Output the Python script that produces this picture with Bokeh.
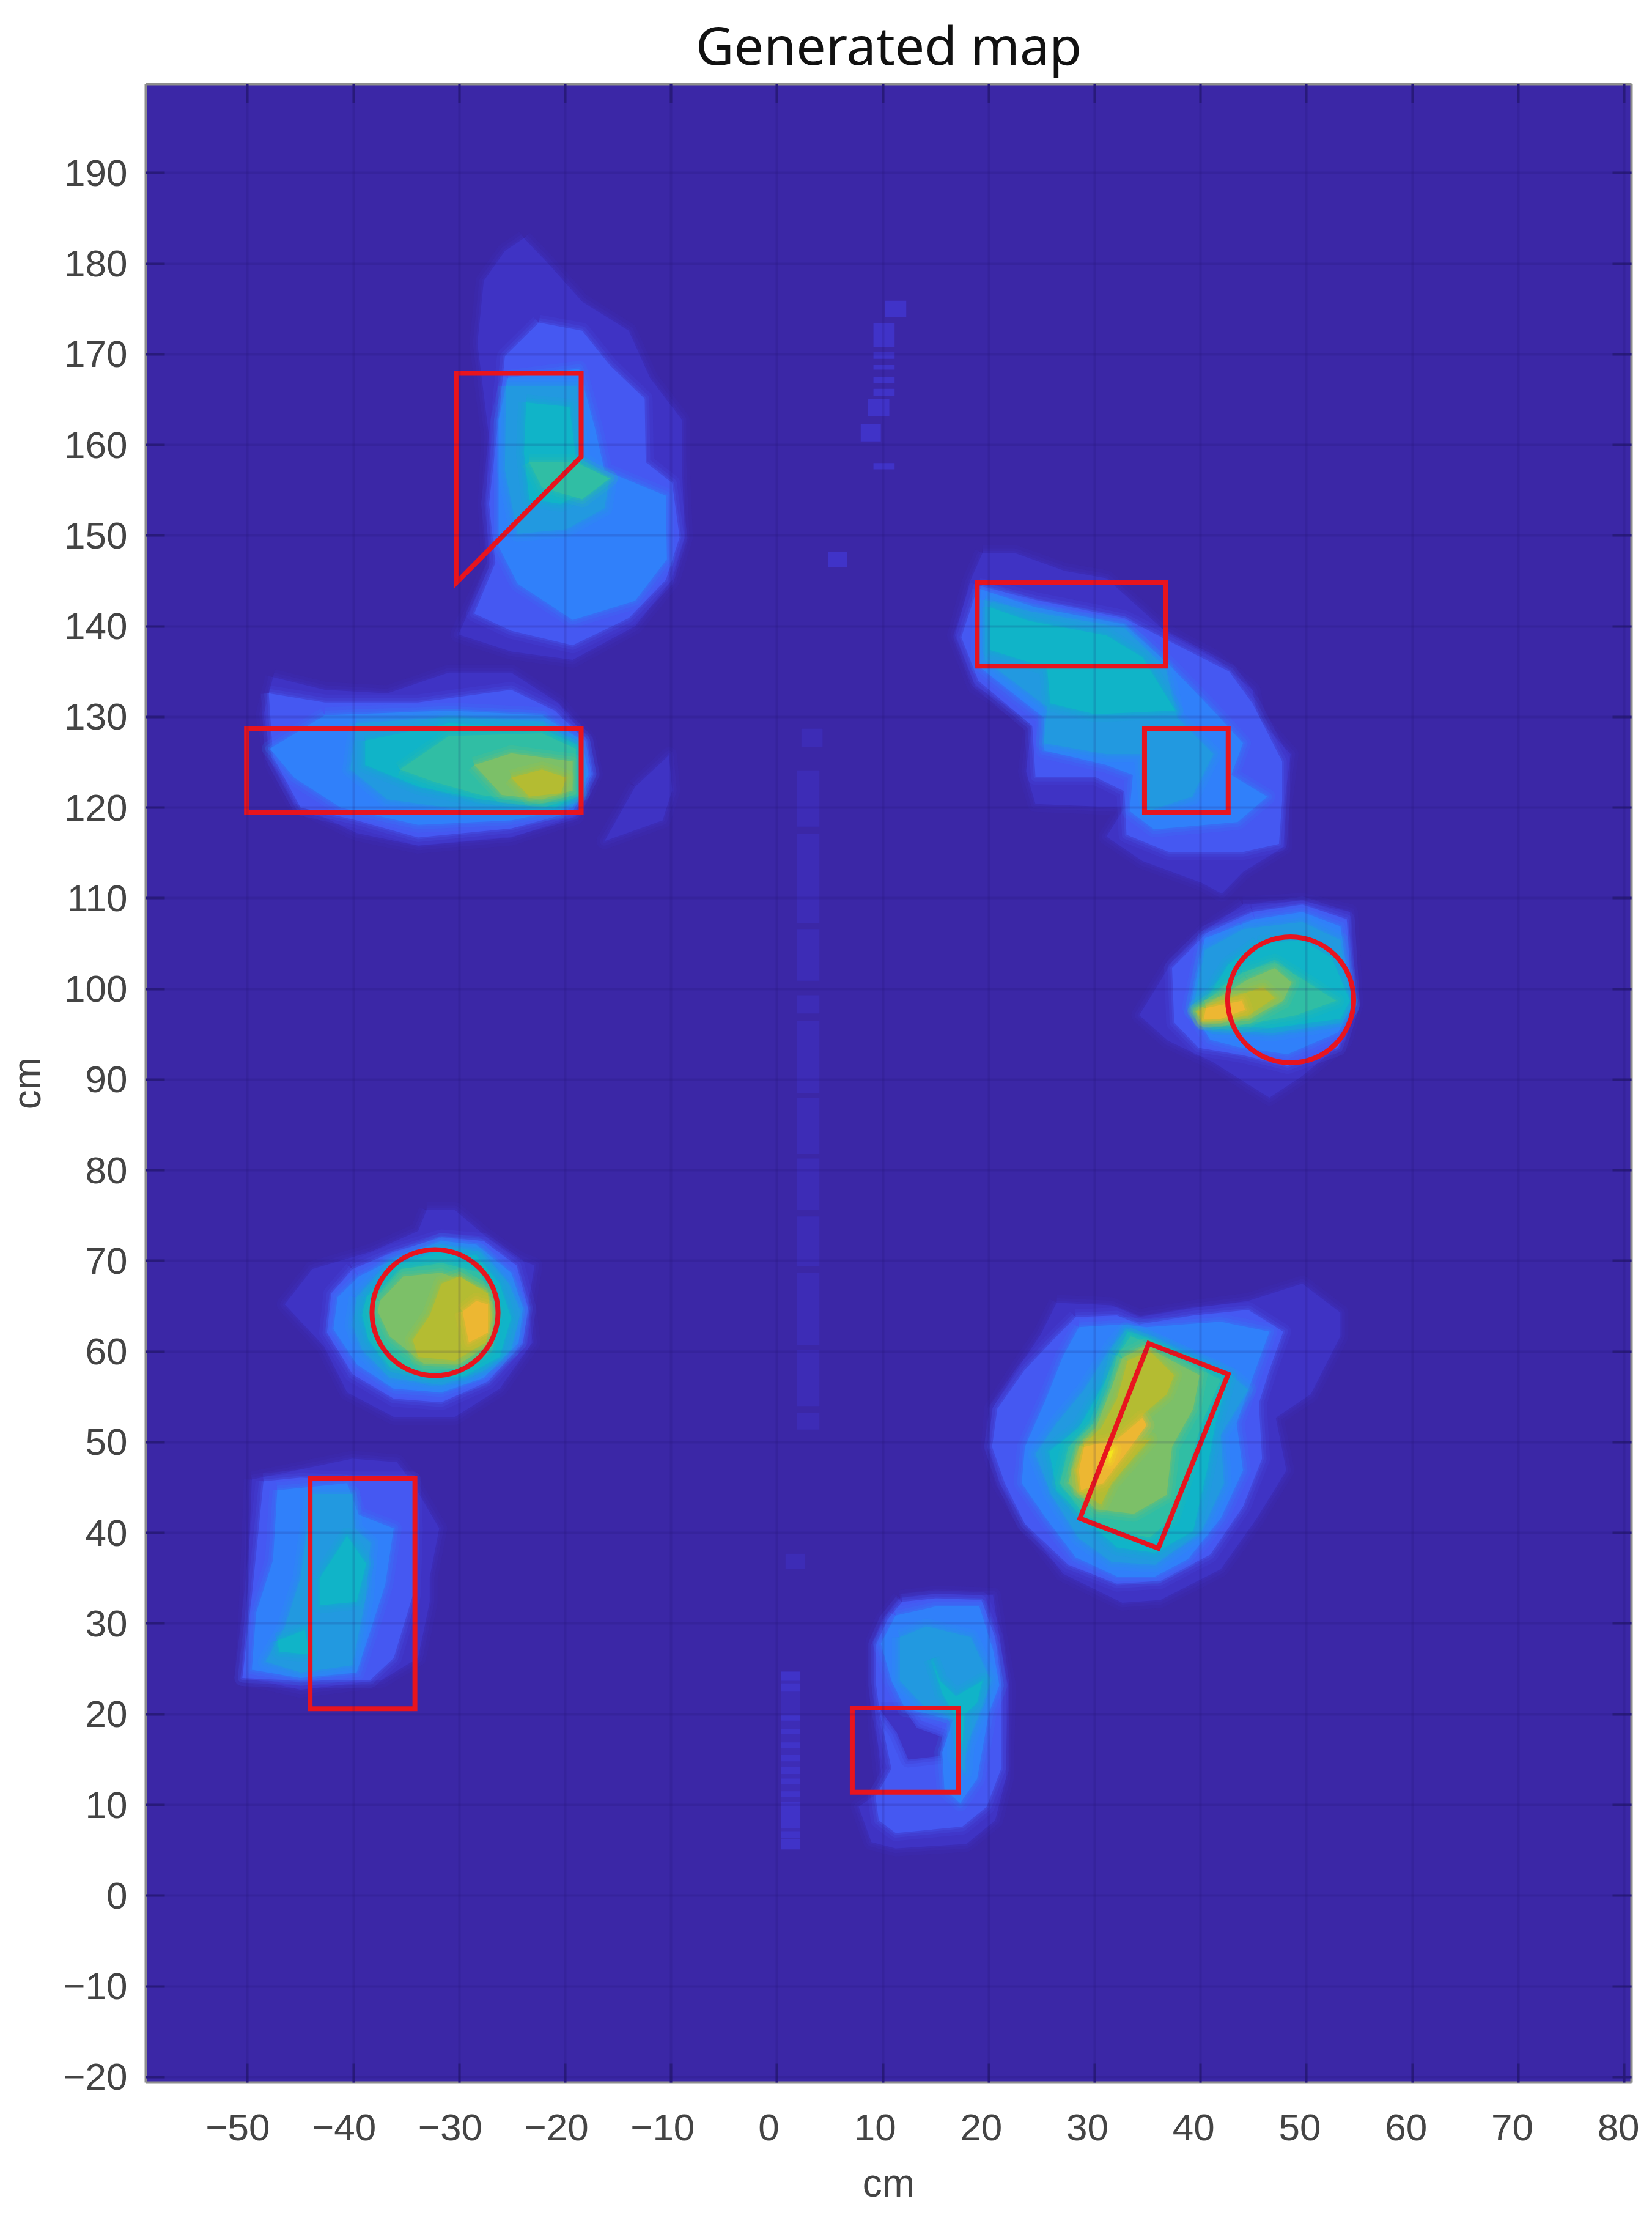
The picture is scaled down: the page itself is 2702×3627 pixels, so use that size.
from bokeh.embed import file_html
from bokeh.resources import INLINE
from bokeh.plotting import figure
from bokeh.models import Range1d, LinearAxis, FixedTicker, Grid

# ---------- axes ----------
x_ticks = [-50, -40, -30, -20, -10, 0, 10, 20, 30, 40, 50, 60, 70, 80]
y_ticks = [-20, -10, 0, 10, 20, 30, 40, 50, 60, 70, 80, 90, 100, 110, 120, 130, 140, 150, 160, 170, 180, 190]
x_labels = ["\u221250", "\u221240", "\u221230", "\u221220", "\u221210", "0", "10", "20", "30", "40", "50", "60", "70", "80"]
y_labels = ["\u221220", "\u221210", "0", "10", "20", "30", "40", "50", "60", "70", "80", "90", "100", "110", "120", "130", "140", "150", "160", "170", "180", "190"]
title_text = "Generated map"
x_title = "cm"
y_title = "cm"

# ---------- red outlines (cm) ----------
poly_a = [(-30.3, 167.9), (-18.5, 167.9), (-18.5, 158.7), (-30.3, 144.8)]
rect_b = [(-50.1, 128.7), (-18.5, 128.7), (-18.5, 119.5), (-50.1, 119.5)]
rect_c = [(18.9, 144.8), (36.7, 144.8), (36.7, 135.6), (18.9, 135.6)]
rect_d = [(34.7, 128.7), (42.6, 128.7), (42.6, 119.5), (34.7, 119.5)]
rect_g = [(35.1, 60.9), (42.6, 57.5), (36.0, 38.3), (28.6, 41.6)]
rect_h = [(-44.1, 46.0), (-34.2, 46.0), (-34.2, 20.6), (-44.1, 20.6)]
rect_i = [(7.1, 20.7), (17.1, 20.7), (17.1, 11.4), (7.1, 11.4)]
circle_x = [48.5, -32.3]
circle_y = [98.8, 64.3]
circle_w = [11.9, 11.9]
circle_h = [13.9, 13.9]

# ---------- density contours (cm) ----------
tl_1 = [(-23.9,182.8),(-21.6,180),(-18.4,175.8),(-14,172.6),(-12,167.4),(-9,162.8),(-9,158.1),(-8.7,149.8),(-9.9,145.1),(-13.4,140),(-19.3,136.3),(-25.1,137.2),(-30.1,139.1),(-27.2,146.5),(-27.5,153.5),(-27.2,160.9),(-28.3,171.2),(-27.7,178.1),(-25.7,181.4)]
tl_2 = [(-22.5,173.5),(-18.4,172.6),(-15.8,168.8),(-12.5,165.1),(-12.4,158.1),(-9.9,155.8),(-9.2,149.8),(-10.5,145.1),(-14,140.9),(-19.3,137.9),(-25.1,139.5),(-28.6,141.4),(-26.6,147),(-27.2,153.5),(-26.3,162.8),(-25.7,169.8)]
tl_3 = [(-25.4,167.4),(-18.7,168.4),(-17.2,161.9),(-16.3,157.2),(-10.5,154.4),(-10.4,147.4),(-13.4,142.8),(-19.3,140.7),(-24.5,144.7),(-26.3,148.8),(-26.3,162.8)]
tl_4 = [(-25.6,166.5),(-18.9,166.5),(-18.6,158.6),(-15.8,156.3),(-16.3,153),(-19.9,150.7),(-24.5,150.2),(-25.7,157.2)]
tl_5 = [(-23.7,164.7),(-19.6,164.2),(-19,158.6),(-16.7,155.8),(-20.4,153.5),(-23.4,154),(-23.9,159.1)]
tl_6 = [(-23.4,158.1),(-19,158.1),(-15.8,156.3),(-18.4,154),(-22.2,155.3)]

bar_1 = [(-47.6,134.4),(-42.7,133),(-36.8,132.6),(-31,134.9),(-25.1,134.9),(-20.7,131.6),(-17.8,127.4),(-17.2,123.7),(-19,119),(-25.1,116.7),(-33.9,115.8),(-39.7,117.2),(-45.6,120.5),(-47.6,124.7),(-48.5,130.2)]
bar_2 = [(-48,132.6),(-42.7,131.6),(-33.9,131.6),(-25.1,133),(-21,130.7),(-18.1,127.4),(-17.5,123.7),(-19.3,119.5),(-25.1,117.7),(-33.9,116.7),(-39.7,118.6),(-45,120),(-47.6,125.6)]
bar_3 = [(-42.7,130.2),(-31,130.7),(-22.2,130.2),(-18.4,127.4),(-17.8,123.7),(-19.3,120),(-25.1,118.6),(-33.9,118.1),(-41.2,120),(-45.6,123.3),(-47.9,126.5)]
bar_4 = [(-39.7,129.3),(-31,130),(-22.2,129.5),(-18.7,126.7),(-18.4,121.6),(-20.7,119.5),(-28,119.5),(-36.8,120.9),(-40.3,124.2)]
bar_5 = [(-38.9,127.4),(-31,129.3),(-22.2,128.7),(-19,126.9),(-18.7,121.4),(-21,120),(-28,120.9),(-33.9,122.3),(-38.9,124.7)]
bar_6 = [(-35.6,124.2),(-31,127.9),(-22.2,128.2),(-19,126.5),(-19,121.4),(-22.2,120.5),(-28,121.4),(-32.3,122.8)]
bar_7 = [(-28.6,124.7),(-25.1,126),(-19.3,125.1),(-19.3,121.9),(-22.2,120.9),(-26,121.4)]
bar_8 = [(-25.1,123.3),(-22.2,124.2),(-19.9,123.3),(-20.4,121.6),(-23.4,121.2)]
tail_1 = [(-13.4,122.3),(-10.2,125.8),(-9.9,121.9),(-10.8,118.6),(-16.3,116.3)]

tr_1 = [(19.4,148.1),(22.4,148.1),(27.2,146.1),(31.1,145.3),(36.7,139.4),(41.2,136.6),(44.9,133),(45.4,129.9),(48.5,125.9),(47.9,120.4),(47.9,115.7),(44,112.9),(42,110.5),(40.1,111.7),(34.5,114.1),(31.1,116.8),(32.8,120),(24.4,120.4),(23.5,124),(24.1,129.5),(18.7,133.4),(16.8,139),(18.2,144.9)]
tr_2 = [(19,144.5),(24.4,142.9),(32.8,140.9),(37.3,138.2),(42.7,135),(44.9,131.5),(47.7,125.1),(47.7,120.8),(47.4,116),(44,115.1),(37,115.1),(33,117),(32.8,121.8),(30,123.4),(24.4,123.4),(24.1,129),(19,134),(17.4,138.8)]
tr_3 = [(19.2,144.1),(24.4,142.1),(32.8,140.2),(37,135.8),(41.2,130.7),(44,127.1),(42.9,123.6),(46.3,121.2),(43.5,118.4),(35.6,117.6),(33.3,119.6),(33.6,123.6),(31.1,124.7),(25.2,126.3),(25.2,129.9),(19,135.6)]
tr_4 = [(19.6,142.9),(23.8,141.7),(32.8,139.8),(36.7,135.4),(37.8,129.9),(41.2,125.9),(39.2,121.2),(35,119.6),(34.4,125.9),(31.1,125.9),(25.2,127.1),(25.5,131.1),(19.6,136.3)]
tr_5 = [(20.1,142.1),(23.8,140.6),(31.1,139),(34.5,136.6),(37.6,130.7),(30,130.3),(25.8,131.5),(25.5,135.4),(20.1,137.4)]

rc_1 = [(44,109.3),(49.6,109.7),(54.1,108.5),(54.6,98.3),(53.6,94.3),(49.6,90.4),(46.5,88),(41.2,91.9),(36.9,94.3),(34.2,97.1),(37.3,103),(40.6,106.6)]
rc_2 = [(44.9,108.5),(49.6,109.3),(53.8,107.7),(54.3,98.3),(53,93.5),(48.2,91.5),(44,92.7),(39.8,93.5),(37.5,96.3),(37.3,102.3),(40.6,106.2)]
rc_3 = [(45.1,107.7),(49.6,108.5),(53.2,106.9),(54.3,98.3),(53,95.2),(48.2,92.8),(43.5,93.6),(40.9,94.4),(39,98),(40.4,105.6)]
rc_4 = [(44,106.6),(49.6,107.4),(53.2,105.4),(54.2,97.9),(53.2,96.3),(46.8,95.1),(41.2,95.5),(39.2,97.5),(40.4,104.3)]
rc_5 = [(45.4,105),(49.6,105.4),(52.4,103.4),(54.1,98.7),(53.2,96.7),(46.8,95.7),(41.2,95.9),(39.8,97.5),(42.6,102.7)]
rc_6 = [(43.9,101.8),(47,103),(49.2,101.4),(52.8,98.7),(49,97.1),(43.4,95.9),(40.1,96.3),(39.5,97.9)]
rc_7 = [(44.4,101),(47,102.3),(48.6,100.7),(47.8,98.7),(44.6,96.7),(40.3,96.3),(39.5,97.5),(41.7,99.1)]
rc_8 = [(41.9,98.7),(45.9,100.2),(47,99),(44.4,97),(40.1,96.5),(39.7,97.5)]
rc_9 = [(40.5,97.9),(43.9,98.7),(44.2,97.7),(41.9,96.7),(40.3,96.7)]

br_1 = [(26.4,65.4),(31.6,65.1),(34.2,63.8),(39.3,64.8),(44.5,65.6),(49.6,67.5),(53.2,64.3),(53.2,61.7),(50.4,55.3),(47.1,52.7),(48.1,46.9),(45.3,41.6),(41.9,36),(36.2,32.6),(32.6,32.3),(27,35.5),(23.9,40.2),(21,45.5),(20,49.5),(20.3,53.7),(23.1,58.8),(24.9,61.9)]
br_2 = [(28.2,63.8),(32.1,64),(34.2,63),(39.3,64),(44.5,64.6),(47.8,62.2),(46.5,58),(45.5,54.3),(45.8,48.2),(44,42.9),(40.9,37.6),(36.2,34.7),(32.1,34.4),(27.5,36.5),(23.4,41),(21.5,45.5),(20.3,49.5),(20.8,53.7),(23.4,58),(26.4,61.7)]
br_3 = [(28.5,62.7),(32.6,63),(34.9,62.7),(41.9,63.3),(46.5,62.2),(45,57.4),(43.4,52.1),(44,46.9),(41.9,41.6),(38.8,37.1),(35.7,35.2),(32.1,35.2),(28.2,37.3),(25.4,41.6),(23.1,45.5),(23.4,49.5),(25.4,54.8),(27,59.5)]
br_4 = [(31.6,60.6),(32.9,62.4),(34.9,61.7),(42.9,57.4),(44.5,55.8),(41.9,50.8),(42.2,45.5),(40.1,40.2),(35.7,36.5),(31.6,36.8),(28.5,39.4),(25.9,44.2),(24.4,48.7),(26.4,52.1),(29,55.8)]
br_5 = [(32.1,59.6),(33.1,62.2),(35.2,61.4),(42.7,57.4),(41.4,52.1),(40.6,46.9),(39.3,40.2),(35.7,37.8),(32.1,38.4),(29,41.6),(26.4,44.7),(25.7,49),(28.5,51.6),(30.8,56.4)]
br_6 = [(32.1,59.6),(33.4,61.7),(35.2,60.9),(41.9,56.9),(40.1,52.1),(38.8,46.9),(37.3,41.6),(35.2,39.5),(32.1,40.2),(29,42),(26.7,45.5),(27.5,49.5),(29.8,52.1),(31.3,55.8)]
br_7 = [(32.6,59.3),(34.7,60.6),(39.9,57.4),(39.3,53.7),(37.3,49.5),(36.8,44.2),(33.7,42.1),(30.1,42.6),(27.5,45.5),(28.5,49.5),(30.1,51.6),(31.6,56.1)]
br_8 = [(33.1,59),(35.2,60.1),(37.5,57.4),(36.8,55.3),(34.7,53.2),(33.1,50),(35.2,50.3),(31.6,45.5),(30.6,43.1),(28.5,44.7),(28.2,46.9),(29,49.8),(30.6,51.6),(32.1,54.8)]
br_9 = [(29,49.5),(32.1,50.3),(34.5,52.7),(34.9,51.9),(32.9,48.7),(30.8,45.5),(28.7,44.7),(28.5,46.9)]
br_10 = [(31.3,49),(31.8,49.2),(31.4,47.9)]

lc_1 = [(-33.1,75.6),(-30.4,75.6),(-27.7,72.9),(-24.4,70.2),(-22.9,69.5),(-23.5,65.2),(-23.1,61),(-26.2,55.9),(-30.4,52.8),(-36.2,52.8),(-40.6,55.5),(-42.8,60.6),(-46.5,65.2),(-43.9,69.1),(-38.4,71),(-33.9,73.3)]
lc_2 = [(-40.1,69.1),(-36.2,71),(-31.7,72.6),(-27.7,72.2),(-24.6,69.5),(-23.5,64.8),(-24,61),(-27.3,56.7),(-31.7,54.4),(-36.2,54.8),(-40.1,57.5),(-42.5,62.1),(-42.1,66.4)]
lc_3 = [(-39.5,68.3),(-36.2,70.2),(-31.7,72.2),(-28.4,71.8),(-25.1,68.7),(-24,64.8),(-24.4,61),(-27.7,57.1),(-31.7,55.5),(-36.2,55.9),(-39.7,58.6),(-41.9,62.5),(-41.5,66)]
lc_4 = [(-39.7,66),(-36.6,69.8),(-31.7,71.8),(-28,71),(-25.3,67.5),(-24.2,64.4),(-25.1,60.2),(-27.7,57.9),(-31.7,56.3),(-36.6,57.1),(-39.2,60.2),(-40.1,62.9)]
lc_5 = [(-38.8,66),(-36.2,69.4),(-32.2,71),(-28.4,70.6),(-26.2,67.5),(-25.1,63.7),(-26.2,59.4),(-29.5,57.3),(-32.8,57.1),(-36.6,58.3),(-38.6,61.3),(-39.2,64)]
lc_6 = [(-37.9,66),(-35.5,69.1),(-31.7,69.8),(-28,68.7),(-26.6,64.4),(-27.3,60.2),(-30,58.2),(-32.8,57.7),(-36.2,58.6),(-37.9,61.7),(-38.4,64.4)]
lc_7 = [(-37.5,65.6),(-35.3,68.3),(-31.7,68.7),(-27.5,66.8),(-26.9,64),(-27.5,60.6),(-30,58.6),(-33.3,58.6),(-36.6,61.7),(-37.7,64.4)]
lc_8 = [(-32.8,64),(-31.7,67.5),(-30,68.3),(-27.3,66.4),(-27.1,63.7),(-27.5,61),(-30.4,59),(-33.9,59.4),(-34.4,61.3)]
lc_9 = [(-29.7,64.4),(-28.4,65.6),(-27.3,65.2),(-27.3,62.1),(-29.1,61)]

ll_1 = [(-49.6,45.9),(-45,47),(-40.1,48.2),(-35.9,47.8),(-34.4,45.5),(-31.9,40.5),(-32.8,35.1),(-32.8,32.4),(-33.9,26.2),(-37.3,23.8),(-45,22.7),(-48.1,23.5),(-50.5,24),(-50.1,31.2)]
ll_2 = [(-48.5,45.7),(-45,46.1),(-40.1,45.9),(-34.4,45.9),(-34.2,40.5),(-34.4,33.1),(-36.2,26.2),(-38.4,23.8),(-45,23.7),(-50.5,24),(-49.6,33.1)]
ll_3 = [(-47.2,44.7),(-40.6,45.5),(-39.5,42),(-36.2,40.5),(-37,34.3),(-38.6,28.5),(-39.7,24.6),(-45,24),(-49.6,24.9),(-49.2,31.2),(-47.6,37)]
ll_4 = [(-43.9,44.3),(-40.1,44.3),(-39.9,40.5),(-38.4,38.9),(-38.8,33.1),(-40.1,25.4),(-45,24.6),(-48.3,25.8),(-46.5,29.6),(-45,35.1)]
ll_5a = [(-43.2,35),(-40.6,39.7),(-38.8,36.6),(-39.7,32.4),(-43.2,32)]
ll_5b = [(-47.2,28.1),(-44.6,29.3),(-44.1,26.6),(-47,26.9)]

bm_1 = [(11.6,32.8),(15,33.3),(20.4,33.1),(21,28.5),(21.8,23.2),(21.6,12.9),(20.6,8.3),(17.9,5.7),(11.2,5.2),(8.9,5.9),(7.7,9.8),(10,11.7),(9.3,18.9),(9.1,23.7),(9.1,28),(10,30.4)]
bm_2 = [(11.8,32.4),(15,32.8),(19.3,32.6),(20.6,28.5),(21.2,23.2),(21.2,14.1),(19.8,9.8),(17.5,7.6),(11.2,6.9),(9.6,8.3),(9.3,10.9),(10.8,14),(9.7,20.1),(9.3,23.7),(9.3,27.5),(10.4,30.4)]
bm_3 = [(11.2,30.9),(15,31.9),(19.1,31.9),(20.4,27.1),(21,23.2),(20,20.1),(18.9,12.9),(17.3,10.2),(15.8,11.7),(15.6,15.8),(16.6,19.4),(12.1,20.6),(10.8,23.7),(9.8,27.8)]
bm_4 = [(11.6,28.5),(14.1,29.7),(18.3,28.5),(20.2,23.7),(19.3,20.6),(17.9,16.5),(17.7,13.6),(16.8,15.3),(16.8,19.6),(14.1,20.6),(11.6,23.7)]
bm_5 = [(14.6,26.1),(15.4,23.7),(16.9,22),(19.4,23.7),(18.9,21.3),(17.7,19.9),(17.5,16.5),(16.9,19.6),(15.6,22.3)]
bm_gap = [(9.8,20.4),(12.1,20.4),(13.2,18.5),(15.6,17.5),(15.4,15.4),(12.4,15),(11.3,18)]

levels = [
    ("#3F33C4", [tl_1, bar_1, tail_1, tr_1, rc_1, br_1, lc_1, ll_1, bm_1]),
    ("#4558F2", [tl_2, bar_2, tr_2, rc_2, br_2, lc_2, ll_2, bm_2]),
    ("#3F33C4", [bm_gap]),
    ("#3080FA", [tl_3, bar_3, tr_3, rc_3, br_3, lc_3, ll_3, bm_3]),
    ("#2299E0", [tl_4, bar_4, tr_4, rc_4, br_4, lc_4, ll_4, bm_4]),
    ("#10B4C8", [tl_5, bar_5, tr_5, rc_5, br_5, lc_5, ll_5a, ll_5b, bm_5]),
    ("#30BEA4", [tl_6, bar_6, rc_6, br_6, lc_6]),
    ("#7CC068", [bar_7, rc_7, br_7, lc_7]),
    ("#B4BC32", [bar_8, rc_8, br_8, lc_8]),
    ("#EDB732", [rc_9, br_9, lc_9]),
    ("#F4E61E", [br_10]),
]

# ---------- faint central strips (left, right, top, bottom in cm) ----------
strip_left = [2.3, 1.9, 1.9, 1.9, 1.9, 1.9, 1.9, 1.9, 1.9, 1.9, 1.9, 1.9, 0.8, 0.4]
strip_right = [4.3, 4.0, 4.0, 4.0, 4.0, 4.0, 4.0, 4.0, 4.0, 4.0, 4.0, 4.0, 2.6, 2.2]
strip_top = [128.7, 124.1, 117.1, 106.6, 99.3, 96.5, 88.0, 81.3, 74.9, 68.7, 60.2, 53.2, 37.7, 24.7]
strip_bottom = [126.7, 117.9, 107.3, 100.9, 97.3, 88.5, 81.8, 75.6, 69.4, 60.7, 54.0, 51.4, 36.0, 5.1]

band_left = [0.4, 0.4, 0.4, 0.4, 0.4, 0.4, 0.4, 0.4, 0.4, 0.4, 0.4, 0.4,
             10.2, 9.1, 9.1, 9.1, 9.1, 9.1, 8.6, 7.9, 9.1, 4.8]
band_right = [2.2, 2.2, 2.2, 2.2, 2.2, 2.2, 2.2, 2.2, 2.2, 2.2, 2.2, 2.2,
              12.2, 11.1, 11.1, 11.1, 11.1, 11.1, 10.6, 9.8, 11.1, 6.6]
band_top = [24.7, 23.4, 19.9, 18.4, 16.9, 15.5, 14.2, 12.9, 11.5, 10.3, 7.1, 6.2,
            175.9, 173.4, 170.2, 168.8, 167.5, 166.2, 165.1, 162.3, 158.0, 148.2]
band_bottom = [23.7, 22.5, 19.3, 17.8, 16.3, 14.8, 13.4, 12.3, 10.9, 7.4, 6.4, 5.1,
               174.1, 170.8, 169.5, 168.3, 166.8, 165.4, 163.2, 160.4, 157.3, 146.5]

# ---------- figure ----------
p = figure(width=2694, height=3608, output_backend="svg", toolbar_location=None,
           x_range=Range1d(-59.61, 80.69), y_range=Range1d(-20.62, 199.8),
           x_axis_type=None, y_axis_type=None,
           min_border_left=238, min_border_right=26, min_border_top=137, min_border_bottom=200)
p.background_fill_color = "#3B27A6"
p.border_fill_color = "white"
p.outline_line_color = None

for colour, shapes in levels:
    xs = [[q[0] for q in s] for s in shapes]
    ys = [[q[1] for q in s] for s in shapes]
    xc = [x + x[:1] for x in xs]
    yc = [y + y[:1] for y in ys]
    p.multi_line(xc, yc, line_color=colour, line_alpha=0.14, line_width=26, line_join="round")
    p.multi_line(xc, yc, line_color=colour, line_alpha=0.2, line_width=15, line_join="round")
    p.multi_line(xc, yc, line_color=colour, line_alpha=0.3, line_width=6, line_join="round")
    p.patches(xs, ys, fill_color=colour, line_color=None)

p.quad(left=strip_left, right=strip_right, top=strip_top, bottom=strip_bottom,
       fill_color="#3D2CB6", line_color=None)
p.quad(left=band_left, right=band_right, top=band_top, bottom=band_bottom,
       fill_color="#4033C8", line_color=None)

for shape in [poly_a, rect_b, rect_c, rect_d, rect_g, rect_h, rect_i]:
    p.patch([q[0] for q in shape], [q[1] for q in shape], fill_color=None,
            line_color="#E8141E", line_width=8, line_join="miter")
p.ellipse(circle_x, circle_y, width=circle_w, height=circle_h, fill_color=None,
          line_color="#E8141E", line_width=8)

AX = "#8E8E8E"
TICK = "#2B1C7E"
LABEL = "#444444"
LF = "Liberation Sans"


def tick_axis(ticks):
    ax = LinearAxis(ticker=FixedTicker(ticks=ticks), major_tick_in=31, major_tick_out=0,
                    major_tick_line_color=TICK, major_tick_line_width=4,
                    axis_line_color=AX, axis_line_width=4,
                    major_label_overrides={t: "" for t in ticks},
                    major_label_text_font_size="1px", major_label_standoff=0)
    ax.minor_tick_line_color = None
    return ax


p.add_layout(tick_axis(x_ticks), "below")
p.add_layout(tick_axis(x_ticks), "above")
p.add_layout(tick_axis(y_ticks), "right")

left = LinearAxis(ticker=FixedTicker(ticks=y_ticks), major_tick_in=31, major_tick_out=0,
                  major_tick_line_color=TICK, major_tick_line_width=4,
                  axis_line_color=AX, axis_line_width=4,
                  major_label_overrides=dict(zip(y_ticks, y_labels)),
                  major_label_text_font=LF, major_label_text_font_size="62px",
                  major_label_text_color=LABEL, major_label_standoff=30,
                  axis_label=y_title, axis_label_text_font=LF, axis_label_text_font_style="normal",
                  axis_label_text_font_size="64px", axis_label_text_color=LABEL,
                  axis_label_standoff=20)
left.minor_tick_line_color = None
p.add_layout(left, "left")

p.extra_x_ranges["labels"] = Range1d(-58.66, 81.23)
bottom = LinearAxis(x_range_name="labels", ticker=FixedTicker(ticks=x_ticks),
                    major_tick_in=0, major_tick_out=0, axis_line_color=None,
                    major_label_overrides=dict(zip(x_ticks, x_labels)),
                    major_label_text_font=LF, major_label_text_font_size="62px",
                    major_label_text_color=LABEL, major_label_standoff=52,
                    axis_label=x_title, axis_label_text_font=LF, axis_label_text_font_style="normal",
                    axis_label_text_font_size="64px", axis_label_text_color=LABEL,
                    axis_label_standoff=31)
bottom.minor_tick_line_color = None
p.add_layout(bottom, "below")

p.add_layout(Grid(dimension=0, ticker=FixedTicker(ticks=x_ticks), grid_line_color="#1A1060",
                  grid_line_alpha=0.14, grid_line_width=4, level="guide"))
p.add_layout(Grid(dimension=1, ticker=FixedTicker(ticks=y_ticks), grid_line_color="#1A1060",
                  grid_line_alpha=0.14, grid_line_width=4, level="guide"))

p.title.text = title_text
p.title.align = "center"
p.title.offset = 21
p.title.vertical_align = "top"
p.title.text_font = "Noto Sans"
p.title.text_font_style = "normal"
p.title.text_font_size = "86px"
p.title.text_color = "#111111"
p.title.standoff = 10
p.title_location = "above"

open("out.html", "w").write(file_html(p, INLINE))
